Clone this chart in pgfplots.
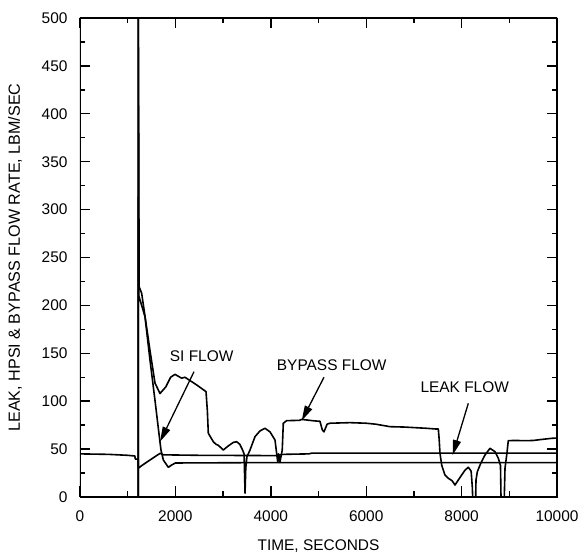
\documentclass[border=0pt]{standalone}
\usepackage{fontspec}
\setmainfont{Liberation Sans}
\usepackage{pgfplots}
\pgfplotsset{compat=1.18}
\usetikzlibrary{arrows.meta}
\begin{document}
\begin{tikzpicture}
\begin{axis}[name=ax, at={(0,0)}, anchor=south west,
  scale only axis, width=477bp, height=479bp,
  xmin=0, xmax=10000, ymin=0, ymax=500,
  xtick={0,2000,...,10000}, ytick={0,50,...,500},
  minor x tick num=1, minor y tick num=1,
  tick align=inside, major tick length=10.5bp, minor tick length=5.5bp,
  every tick/.style={line width=1.4bp, black},
  scaled x ticks=false,
  /pgf/number format/1000 sep={},
  /pgf/number format/assume math mode=true,
  tick label style={font=\fontsize{15.5}{18}\selectfont},
  xticklabel style={yshift=-10bp},
  yticklabel style={xshift=-9bp},
  xlabel={TIME, SECONDS},
  ylabel={LEAK, HPSI \& BYPASS FLOW RATE, LBM/SEC},
  xlabel style={font=\fontsize{15.5}{18}\selectfont, at={(rel axis cs:0.5,0)}, anchor=center, yshift=-49bp},
  ylabel style={font=\fontsize{16.2}{18}\selectfont, at={(rel axis cs:0,0.5)}, anchor=center, yshift=65bp},
  cycle list={{black}},
  no markers,
]
% leak flow
\addplot[black, line width=1.6bp, line join=round] coordinates {(0,45) (600,44.5) (1000,43.5) (1150,42.8) (1160,39.5) (1220,39.5) (1223,30) (1300,33) (1450,38) (1600,43) (1680,45.6) (1750,44) (2500,43.5) (4100,43.2) (4250,44.5) (4800,45) (4860,45.8) (7500,45.8) (10000,45.8)};
% SI flow
\addplot[black, line width=1.6bp, line join=round] coordinates {(0,0) (1221,0) (1222,510) (1232,210) (1293,200) (1363,188) (1467,143) (1572,101) (1663,63) (1698,49) (1747,38.6) (1852,31) (1922,33.4) (2000,35.5) (3400,35.8) (6000,35.8) (10000,35.8)};
% bypass flow
\addplot[black, line width=1.6bp, line join=round] coordinates {(0,0) (1221,0) (1223,510) (1240,219.5) (1293,212.6) (1467,153) (1572,119) (1677,108) (1800,115) (1900,125) (1992,128) (2131,124) (2200,125) (2445,117) (2642,110) (2670,90) (2690,66.5) (2795,57.7) (2850,55) (2900,54) (3004,49) (3100,53) (3215,57) (3284,57.7) (3350,55) (3400,50) (3440,45) (3460,4) (3475,30) (3500,42) (3564,49) (3669,63) (3774,69) (3878,71.7) (3983,68) (4088,59.5) (4144,37) (4165,45) (4190,36) (4240,49) (4262,77) (4333,79.7) (4600,80) (4648,81) (4900,79.5) (5031,79) (5080,70) (5115,68) (5180,76) (5241,77) (5660,77.6) (6000,77) (6200,76) (6499,73.4) (6800,73) (7268,71.7) (7450,71) (7512,71) (7530,60) (7547,45.6) (7582,33.4) (7650,23) (7722,19.5) (7800,17) (7862,12.5) (7930,17.7) (8071,28) (8141,31) (8200,27) (8225,10) (8232,0) (8295,0) (8302,17.7) (8330,26.4) (8400,35) (8490,43.8) (8595,50.8) (8700,47.3) (8770,40.4) (8815,33) (8826,0) (8895,0) (8910,30) (8950,45.6) (8979,58.8) (9100,59) (9364,58.8) (9500,59) (9700,60.2) (9900,61.3) (10000,61.5)};
\node[font=\fontsize{15.5}{18}\selectfont] at (axis cs:2550,146.5) {SI FLOW};
\node[font=\fontsize{15.5}{18}\selectfont] at (axis cs:5277,137.8) {BYPASS FLOW};
\node[font=\fontsize{15.5}{18}\selectfont] at (axis cs:8065,115) {LEAK FLOW};
\draw[line width=1.3bp, -{Triangle[length=15bp,width=8bp]}] (axis cs:2390,130.8) -- (axis cs:1677,57.7);
\draw[line width=1.3bp, -{Triangle[length=15bp,width=8bp]}] (axis cs:5115,125) -- (axis cs:4648,79.7);
\draw[line width=1.3bp, -{Triangle[length=15bp,width=8bp]}] (axis cs:8141,97.8) -- (axis cs:7813,43.8);
\draw[line width=2.2bp] (rel axis cs:0,0) rectangle (rel axis cs:1,1);
\end{axis}
\pgfresetboundingbox
\path ([xshift=-80bp,yshift=-61bp]ax.south west) rectangle ([xshift=25bp,yshift=18bp]ax.north east);
\end{tikzpicture}
\end{document}
